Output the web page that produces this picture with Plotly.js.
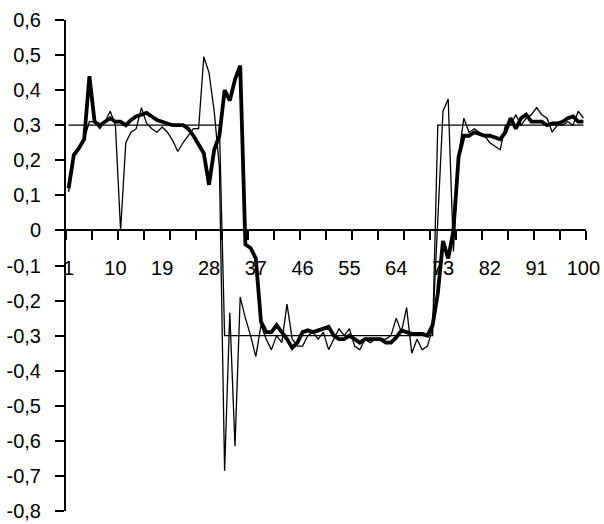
<!DOCTYPE html>
<html>
<head>
<meta charset="utf-8">
<script src="https://cdn.plot.ly/plotly-3.0.1.min.js"></script>
<style>
html,body{margin:0;padding:0;background:#fff;}
#chart{width:604px;height:524px;}
</style>
</head>
<body>
<div id="chart"></div>
<script>
// Category index 1..100
const categories = Array.from({length: 100}, (_, k) => k + 1);

// Reference square wave
const reference = [
  0.3,0.3,0.3,0.3,0.3,0.3,0.3,0.3,0.3,0.3,
  0.3,0.3,0.3,0.3,0.3,0.3,0.3,0.3,0.3,0.3,
  0.3,0.3,0.3,0.3,0.3,0.3,0.3,0.3,0.3,0.3,
  -0.3,-0.3,-0.3,-0.3,-0.3,-0.3,-0.3,-0.3,-0.3,-0.3,
  -0.3,-0.3,-0.3,-0.3,-0.3,-0.3,-0.3,-0.3,-0.3,-0.3,
  -0.3,-0.3,-0.3,-0.3,-0.3,-0.3,-0.3,-0.3,-0.3,-0.3,
  -0.3,-0.3,-0.3,-0.3,-0.3,-0.3,-0.3,-0.3,-0.3,-0.3,
  -0.3,0.3,0.3,0.3,0.3,0.3,0.3,0.3,0.3,0.3,
  0.3,0.3,0.3,0.3,0.3,0.3,0.3,0.3,0.3,0.3,
  0.3,0.3,0.3,0.3,0.3,0.3,0.3,0.3,0.3,0.3
];

// Noisy thin series
const noisy = [
  0.11,0.21,0.23,0.26,0.31,0.31,0.29,0.31,0.34,0.30,
  0.00,0.25,0.28,0.29,0.35,0.305,0.29,0.28,0.295,0.28,
  0.257,0.225,0.25,0.27,0.29,0.29,0.495,0.45,0.34,0.18,
  -0.685,-0.235,-0.615,-0.19,-0.25,-0.30,-0.36,-0.27,-0.31,-0.34,
  -0.30,-0.32,-0.21,-0.31,-0.33,-0.33,-0.30,-0.29,-0.31,-0.29,
  -0.34,-0.31,-0.28,-0.30,-0.28,-0.33,-0.34,-0.31,-0.32,-0.31,
  -0.31,-0.31,-0.30,-0.25,-0.29,-0.22,-0.35,-0.31,-0.34,-0.33,
  -0.28,0.05,0.34,0.375,-0.06,0.21,0.32,0.28,0.29,0.28,
  0.27,0.25,0.24,0.23,0.30,0.30,0.33,0.30,0.32,0.33,
  0.35,0.33,0.32,0.28,0.30,0.30,0.31,0.30,0.34,0.32
];

// Smoothed thick series
const smoothed = [
  0.12,0.215,0.235,0.26,0.44,0.31,0.30,0.31,0.32,0.31,
  0.31,0.30,0.315,0.325,0.33,0.335,0.325,0.315,0.31,0.305,
  0.30,0.30,0.30,0.29,0.27,0.245,0.22,0.13,0.23,0.27,
  0.40,0.37,0.43,0.47,-0.04,-0.05,-0.08,-0.26,-0.29,-0.29,
  -0.27,-0.29,-0.31,-0.335,-0.32,-0.29,-0.285,-0.29,-0.285,-0.28,
  -0.275,-0.30,-0.31,-0.31,-0.30,-0.31,-0.32,-0.31,-0.31,-0.31,
  -0.31,-0.32,-0.32,-0.305,-0.285,-0.29,-0.295,-0.295,-0.295,-0.30,
  -0.27,-0.18,-0.03,-0.08,0.0,0.21,0.27,0.27,0.28,0.275,
  0.27,0.27,0.265,0.26,0.28,0.32,0.29,0.32,0.33,0.31,
  0.31,0.31,0.30,0.305,0.305,0.31,0.32,0.325,0.31,0.31
];

const xLabelVals = [1,10,19,28,37,46,55,64,73,82,91,100];
const yTickVals = [-0.8,-0.7,-0.6,-0.5,-0.4,-0.3,-0.2,-0.1,0,0.1,0.2,0.3,0.4,0.5,0.6];
const yTickText = ['-0,8','-0,7','-0,6','-0,5','-0,4','-0,3','-0,2','-0,1','0','0,1','0,2','0,3','0,4','0,5','0,6'];

const zeroPos = 0.8 / 1.4;
const font = {family: 'Liberation Sans, Arial, sans-serif', size: 20, color: '#000'};

const traces = [
  {x: categories, y: reference, type: 'scatter', mode: 'lines', xaxis: 'x2',
   line: {color: '#000', width: 1.3}, hoverinfo: 'skip'},
  {x: categories, y: noisy, type: 'scatter', mode: 'lines',
   line: {color: '#000', width: 1.3}, hoverinfo: 'skip'},
  {x: categories, y: smoothed, type: 'scatter', mode: 'lines',
   line: {color: '#000', width: 3.8}, hoverinfo: 'skip'}
];

const layout = {
  width: 604, height: 524,
  margin: {l: 66, r: 18, t: 20, b: 13, pad: 0},
  paper_bgcolor: '#fff', plot_bgcolor: '#fff',
  showlegend: false,
  font: font,
  xaxis: {
    range: [0.5, 100.5], anchor: 'free', position: zeroPos,
    showline: true, linecolor: '#000', linewidth: 2,
    ticks: 'outside', ticklen: 9, tickwidth: 2, tickcolor: '#000',
    tickmode: 'linear', tick0: 0.5, dtick: 5,
    showticklabels: false, showgrid: false, zeroline: false
  },
  xaxis2: {
    range: [0.5, 100.5], overlaying: 'x', anchor: 'free', position: zeroPos,
    showline: false, ticks: '', tickmode: 'array', tickvals: xLabelVals,
    ticklabelstandoff: 24,
    showgrid: false, zeroline: false, tickfont: font
  },
  yaxis: {
    range: [-0.8, 0.6], showline: true, linecolor: '#000', linewidth: 2,
    ticks: 'outside', ticklen: 9, tickwidth: 2, tickcolor: '#000',
    tickmode: 'array', tickvals: yTickVals, ticktext: yTickText,
    ticklabelstandoff: 10,
    showgrid: false, zeroline: false, tickfont: font
  }
};

Plotly.newPlot('chart', traces, layout, {staticPlot: true, displayModeBar: false});
</script>
</body>
</html>
